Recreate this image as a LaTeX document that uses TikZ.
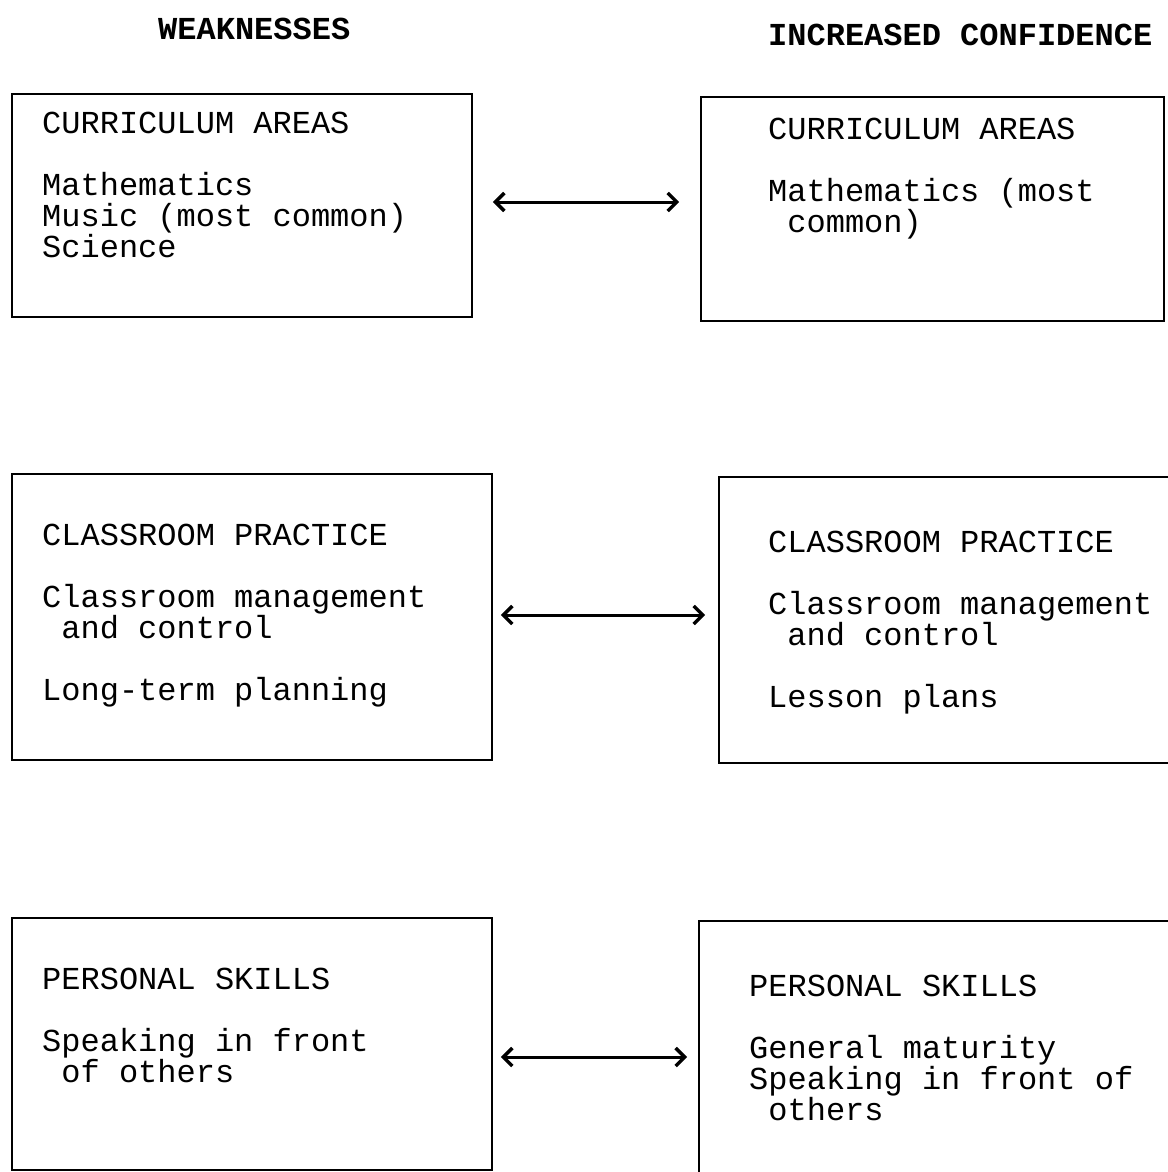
\documentclass[tikz,border=0pt]{standalone}
\usepackage{fontspec}
\setmainfont{Liberation Mono}
\usetikzlibrary{arrows.meta}
\begin{document}
\begin{tikzpicture}[x=1pt,y=-1pt,
  panel/.style={draw, line width=1.6pt, rectangle, inner sep=0pt},
  body/.style={anchor=base west, inner sep=0pt, align=left, font=\fontsize{32}{31}\selectfont},
  head/.style={anchor=base west, inner sep=0pt, font=\fontsize{32}{31}\selectfont\bfseries},
  conn/.style={{Straight Barb[length=9pt,width=18pt,line width=3.5pt]}-{Straight Barb[length=9pt,width=18pt,line width=3.5pt]}, line width=3pt}]
\useasboundingbox (0,0) rectangle (1167,1172);
\fill[white] (0,0) rectangle (1167,1172);
% headings
\node[head] (hw) at (158,40) {WEAKNESSES};
\node[head] (hc) at (768,46) {INCREASED CONFIDENCE};
% boxes
\node[panel, minimum width=460pt, minimum height=223pt] (b1) at (242,205.5) {};
\node[panel, minimum width=463pt, minimum height=224pt] (b2) at (932.5,209) {};
\node[panel, minimum width=480pt, minimum height=286pt] (b3) at (252,617) {};
\node[panel, minimum width=453pt, minimum height=286pt] (b4) at (945.5,620) {};
\node[panel, minimum width=480pt, minimum height=252pt] (b5) at (252,1044) {};
\node[panel, minimum width=473pt, minimum height=256pt] (b6) at (935.5,1049) {};
% texts (anchored at the baseline of their last line)
\newcommand{\ind}{\hphantom{x}}
\node[body] (t1) at (42,257) {CURRICULUM AREAS\\[31pt]Mathematics\\Music (most common)\\Science};
\node[body] (t2) at (768,232) {CURRICULUM AREAS\\[31pt]Mathematics (most\\\ind common)};
\node[body] (t3) at (42,700) {CLASSROOM PRACTICE\\[31pt]Classroom management\\\ind and control\\[31pt]Long-term planning};
\node[body] (t4) at (768,707) {CLASSROOM PRACTICE\\[31pt]Classroom management\\\ind and control\\[31pt]Lesson plans};
\node[body] (t5) at (42,1082) {PERSONAL SKILLS\\[31pt]Speaking in front\\\ind of others};
\node[body] (t6) at (749,1120) {PERSONAL SKILLS\\[31pt]General maturity\\Speaking in front of\\\ind others};
% connectors
\draw[conn, shorten <=20pt, shorten >=21pt] (b1.east |- 0,202) -- (b2.west |- 0,202);
\draw[conn, shorten <=8pt, shorten >=13pt] (b3.east |- 0,615) -- (b4.west |- 0,615);
\draw[conn, shorten <=8pt, shorten >=11pt] (b5.east |- 0,1057) -- (b6.west |- 0,1057);
\end{tikzpicture}
\end{document}
